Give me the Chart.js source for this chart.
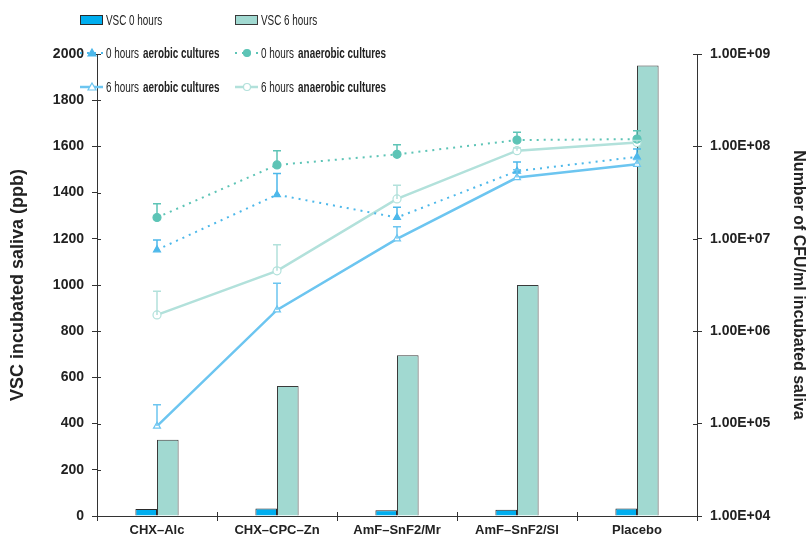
<!DOCTYPE html>
<html>
<head>
<meta charset="utf-8">
<script src="https://cdn.jsdelivr.net/npm/chart.js@4"></script>
<style>
  html, body { margin: 0; padding: 0; background: #fff; }
  #wrap { width: 808px; height: 539px; position: relative; }
</style>
</head>
<body>
<div id="wrap"><canvas id="myChart" width="808" height="539"></canvas></div>
<script>
const categories = ["CHX–Alc", "CHX–CPC–Zn", "AmF–SnF2/Mr", "AmF–SnF2/Sl", "Placebo"];

// VSC in ppb (left axis)
const vsc0 = [30, 32, 25, 27, 32];
const vsc6 = [330, 563, 696, 1000, 1950];

// CFU/ml (right axis, log) and the top of each error bar
const aerobic0 = [7.6e6, 3.0e7, 1.7e7, 5.4e7, 7.7e7];
const aerobic0Top = [9.7e6, 5.1e7, 2.2e7, 6.8e7, 9.4e7];
const anaerobic0 = [1.7e7, 6.3e7, 8.2e7, 1.17e8, 1.2e8];
const anaerobic0Top = [2.4e7, 9.0e7, 1.04e8, 1.42e8, 1.48e8];
const aerobic6 = [9.4e4, 1.7e6, 1.0e7, 4.6e7, 6.4e7];
const aerobic6Top = [1.6e5, 3.3e6, 1.35e7, 5.6e7, 7.2e7];
const anaerobic6 = [1.5e6, 4.5e6, 2.7e7, 9.0e7, 1.1e8];
const anaerobic6Top = [2.7e6, 8.6e6, 3.8e7, 9.6e7, 1.16e8];

const leftTicks = [0, 200, 400, 600, 800, 1000, 1200, 1400, 1600, 1800, 2000];
const rightTicks = [1e4, 1e5, 1e6, 1e7, 1e8, 1e9];
const rightTickLabels = ["1.00E+04", "1.00E+05", "1.00E+06", "1.00E+07", "1.00E+08", "1.00E+09"];

const ctx = document.getElementById("myChart");
const axisColor = "#333";
const fontFamily = '"Liberation Sans", Arial, sans-serif';

// upward error bars with a small cap
const errorBars = {
  id: "errorBars",
  afterDatasetsDraw(chart) {
    const c = chart.ctx;
    chart.data.datasets.forEach((ds, i) => {
      if (!ds.errorTop) return;
      const meta = chart.getDatasetMeta(i);
      const yScale = chart.scales[ds.yAxisID];
      c.save();
      c.strokeStyle = ds.borderColor;
      c.lineWidth = 1.5;
      meta.data.forEach((pt, j) => {
        const yTop = yScale.getPixelForValue(ds.errorTop[j]);
        c.beginPath();
        c.moveTo(pt.x, pt.y);
        c.lineTo(pt.x, yTop);
        c.moveTo(pt.x - 4, yTop);
        c.lineTo(pt.x + 4, yTop);
        c.stroke();
      });
      c.restore();
    });
  }
};

// tick marks also reach a few pixels inside the plot
const innerTicks = {
  id: "innerTicks",
  afterDraw(chart) {
    const c = chart.ctx;
    const { x, y, y1 } = chart.scales;
    c.save();
    c.strokeStyle = axisColor;
    c.lineWidth = 1;
    c.beginPath();
    y.ticks.forEach((t) => {
      const py = Math.round(y.getPixelForValue(t.value)) + 0.5;
      c.moveTo(y.right, py);
      c.lineTo(y.right + 4, py);
    });
    y1.ticks.forEach((t) => {
      const py = Math.round(y1.getPixelForValue(t.value)) + 0.5;
      c.moveTo(y1.left - 4, py);
      c.lineTo(y1.left, py);
    });
    for (let i = 1; i < categories.length; i++) {
      const px = Math.round(x.left + (x.width * i) / categories.length) + 0.5;
      c.moveTo(px, x.top - 4);
      c.lineTo(px, x.top);
    }
    c.stroke();
    c.restore();
  }
};

// legend in two columns, three rows
const legendBoxes = {
  id: "legendBoxes",
  afterDraw(chart) {
    const c = chart.ctx;
    const cols = [80, 235];
    const rows = [20, 53, 87];
    const squeeze = 0.66;
    chart.data.datasets.forEach((ds, i) => {
      const x = cols[i % 2];
      const y = rows[Math.floor(i / 2)];
      c.save();
      if (ds.type === "bar") {
        c.fillStyle = ds.backgroundColor;
        c.strokeStyle = ds.borderColor;
        c.lineWidth = 1;
        c.fillRect(x, y - 5, 23, 10);
        c.strokeRect(x + 0.5, y - 4.5, 22, 9);
      } else {
        c.strokeStyle = ds.borderColor;
        c.lineWidth = ds.borderWidth;
        c.setLineDash(ds.borderDash || []);
        c.beginPath();
        c.moveTo(x, y);
        c.lineTo(x + 23, y);
        c.stroke();
        c.setLineDash([]);
        c.fillStyle = ds.pointBackgroundColor;
        c.lineWidth = 1.2;
        const px = x + 12;
        c.beginPath();
        if (ds.pointStyle === "triangle") {
          c.moveTo(px, y - 4);
          c.lineTo(px + 4, y + 3);
          c.lineTo(px - 4, y + 3);
          c.closePath();
        } else {
          c.arc(px, y, 3.5, 0, Math.PI * 2);
        }
        c.fill();
        c.stroke();
      }
      c.fillStyle = "#222";
      c.textBaseline = "middle";
      const words = ds.label.split(" ");
      const first = ds.type === "bar" ? ds.label : words.slice(0, 2).join(" ");
      const rest = ds.type === "bar" ? "" : words.slice(2).join(" ");
      c.translate(x + 26, y + 1);
      c.scale(squeeze, 1);
      c.font = "15px " + fontFamily;
      c.fillText(first, 0, 0);
      if (rest) {
        const w = c.measureText(first + " ").width;
        c.font = "bold 15px " + fontFamily;
        c.fillText(rest, w + 2, 0);
      }
      c.restore();
    });
  }
};

function lineSet(label, data, top, color, dashed, style, fill) {
  return {
    type: "line",
    label: label,
    data: data,
    errorTop: top,
    yAxisID: "y1",
    borderColor: color,
    borderWidth: dashed ? 2 : 2.5,
    borderDash: dashed ? [2, 5] : [],
    pointStyle: style,
    pointRadius: 4,
    pointBackgroundColor: fill,
    pointBorderColor: color,
    pointBorderWidth: 1.2,
    tension: 0,
    order: 1,
  };
}

new Chart(ctx, {
  data: {
    labels: categories,
    datasets: [
      { type: "bar", label: "VSC 0 hours", data: vsc0, yAxisID: "y",
        backgroundColor: "#00AEEF", borderColor: "#2b2b2b", borderWidth: 1, order: 10 },
      { type: "bar", label: "VSC 6 hours", data: vsc6, yAxisID: "y",
        backgroundColor: "#A1D9D1", borderColor: "#3a3a3a", borderWidth: 1, order: 10 },
      lineSet("0 hours aerobic cultures", aerobic0, aerobic0Top, "#4DB8EA", true, "triangle", "#4DB8EA"),
      lineSet("0 hours anaerobic cultures", anaerobic0, anaerobic0Top, "#5DC4B6", true, "circle", "#5DC4B6"),
      lineSet("6 hours aerobic cultures", aerobic6, aerobic6Top, "#6CC5F0", false, "triangle", "#ffffff"),
      lineSet("6 hours anaerobic cultures", anaerobic6, anaerobic6Top, "#B2E1DB", false, "circle", "#ffffff"),
    ],
  },
  options: {
    responsive: false,
    animation: false,
    layout: { padding: { top: 54, left: 0, right: 0, bottom: 0 } },
    datasets: { bar: { categoryPercentage: 0.36, barPercentage: 1 } },
    plugins: { legend: { display: false }, tooltip: { enabled: false } },
    scales: {
      x: {
        type: "category",
        offset: true,
        afterFit: (s) => { s.height = 23; },
        grid: { offset: true, drawOnChartArea: false, tickLength: 5, color: axisColor },
        border: { color: axisColor },
        ticks: { color: "#222", font: { family: fontFamily, size: 13, weight: "bold" }, padding: 2 },
      },
      y: {
        position: "left",
        min: 0,
        max: 2000,
        afterFit: (s) => { s.width = 97; },
        afterBuildTicks: (s) => { s.ticks = leftTicks.map((v) => ({ value: v })); },
        grid: { drawOnChartArea: false, tickLength: 5, color: axisColor },
        border: { color: axisColor },
        ticks: {
          color: "#222",
          font: { family: fontFamily, size: 14, weight: "bold" },
          padding: 8,
          callback: (v) => String(v),
        },
        title: { display: true, text: "VSC incubated saliva (ppb)", color: "#222",
          font: { family: fontFamily, size: 18, weight: "bold" }, padding: { top: 7, bottom: 0 } },
      },
      y1: {
        type: "logarithmic",
        position: "right",
        min: 1e4,
        max: 1e9,
        afterFit: (s) => { s.width = 111; },
        afterBuildTicks: (s) => { s.ticks = rightTicks.map((v) => ({ value: v })); },
        grid: { drawOnChartArea: false, tickLength: 5, color: axisColor },
        border: { color: axisColor },
        ticks: {
          color: "#222",
          font: { family: fontFamily, size: 14, weight: "bold" },
          padding: 8,
          callback: (v, i) => rightTickLabels[i],
        },
        title: { display: true, text: "Number of CFU/ml incubated saliva", color: "#222",
          font: { family: fontFamily, size: 16, weight: "bold" }, padding: { top: 0, bottom: 0 } },
      },
    },
  },
  plugins: [errorBars, innerTicks, legendBoxes],
});
</script>
</body>
</html>
